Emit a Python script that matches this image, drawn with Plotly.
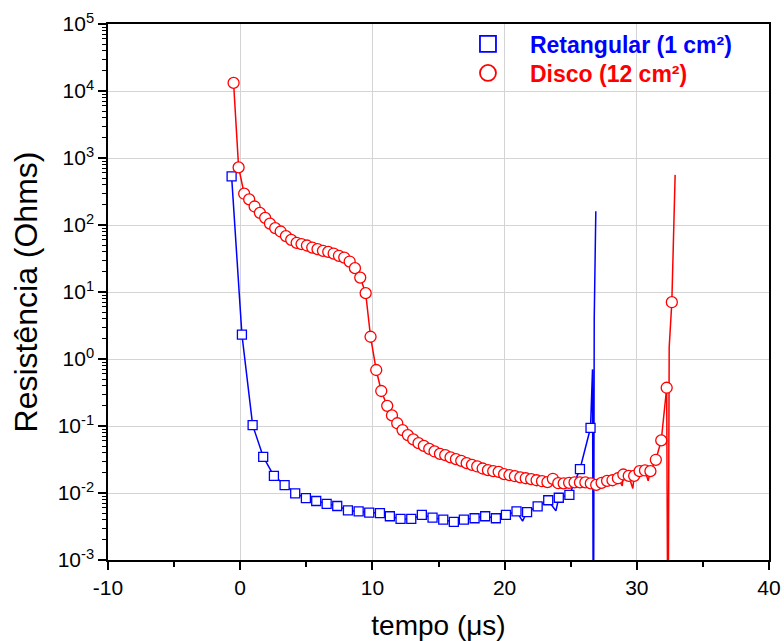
import plotly.graph_objects as go

# ---------------- data ----------------
# Retangular (1 cm²) - marker samples
ret_t = [-0.65, 0.13, 0.94, 1.74, 2.55, 3.36, 4.16, 4.97, 5.75, 6.54, 7.34, 8.15,
         8.96, 9.76, 10.57, 11.32, 12.13, 12.94, 13.74, 14.55, 15.36, 16.16, 16.92,
         17.73, 18.53, 19.34, 20.1, 20.9, 21.7, 22.5, 23.3, 24.1, 24.9, 25.7, 26.5]
ret_r = [531, 2.31, 0.103, 0.0347, 0.0180, 0.0131, 0.0099, 0.0084, 0.0076, 0.0069,
         0.0064, 0.0055, 0.0053, 0.0051, 0.0050, 0.0045, 0.0041, 0.0041, 0.0047,
         0.0043, 0.0040, 0.0037, 0.0040, 0.0042, 0.0045, 0.0042, 0.0047, 0.0053,
         0.0052, 0.0063, 0.0078, 0.0085, 0.0094, 0.0227, 0.094]
# extra line-only samples (noise spikes and final breakdown spike)
ret_extra_t = [21.36, 23.88, 26.65, 26.72, 26.78, 26.9]
ret_extra_r = [0.0038, 0.0054, 0.7, 1e-5, 4.0, 160]

# Disco (12 cm²) - marker samples
dis_t = [-0.5, -0.12, 0.30, 0.68, 1.09, 1.49, 1.89, 2.25, 2.65, 3.06, 3.46, 3.86,
         4.27, 4.64, 5.05, 5.45, 5.85, 6.26, 6.66, 7.07, 7.47, 7.87, 8.28, 8.68,
         9.08, 9.49, 9.86, 10.29, 10.67, 11.12, 11.48, 11.88, 12.28, 12.68, 13.09,
         13.49, 13.89, 14.3, 14.7, 15.11, 15.51, 15.91, 16.32, 16.72, 17.13, 17.53,
         17.93, 18.34, 18.74, 19.14, 19.55, 19.96, 20.37, 20.78, 21.19, 21.6, 22.01,
         22.42, 22.83, 23.24, 23.65, 24.06, 24.47, 24.88, 25.29, 25.7, 26.11, 26.52,
         26.93, 27.34, 27.75, 28.16, 28.57, 28.98, 29.39, 29.8, 30.21, 30.62, 31.03,
         31.44, 31.85, 32.26, 32.65]
dis_r = [13200, 724, 293, 241, 189, 152, 128, 105, 90, 80, 68.3, 60.1,
         54.2, 51.9, 49.4, 46.1, 43.6, 41.1, 39.8, 37.5, 34.7, 32.7, 28.5, 22.7,
         16.4, 9.6, 2.15, 0.685, 0.333, 0.200, 0.144, 0.110, 0.0868, 0.0731, 0.0631,
         0.0555, 0.0506, 0.0456, 0.0417, 0.0384, 0.0367, 0.0340, 0.0320, 0.0302,
         0.0279, 0.0263, 0.0249, 0.0232, 0.0219, 0.0212, 0.0207, 0.0191, 0.0185,
         0.0178, 0.0171, 0.0166, 0.0161, 0.0155, 0.0150, 0.0145, 0.0163, 0.0140,
         0.0139, 0.0142, 0.0144, 0.0144, 0.0144, 0.0139, 0.0132, 0.0142, 0.0152,
         0.0155, 0.0166, 0.0189, 0.0180, 0.0180, 0.0212, 0.0217, 0.0212, 0.0313,
         0.061, 0.372, 7.04]
dis_extra_t = [28.9, 29.7, 30.86, 32.36, 32.45, 32.9]
dis_extra_r = [0.0128, 0.0117, 0.0152, 1e-5, 1.5, 560]

x_ticks = [-10, 0, 10, 20, 30, 40]
x_ticktext = ["-10", "0", "10", "20", "30", "40"]
x_minor = [-5, 5, 15, 25, 35]
y_exps = [-3, -2, -1, 0, 1, 2, 3, 4, 5]
y_ticktext = ["10<sup>%d</sup>" % e for e in y_exps]

names = ["Retangular (1 cm²)", "Disco (12 cm²)"]
BLUE = "#0000ff"
RED = "#ff0000"


def merged(t1, r1, t2, r2):
    pts = sorted(zip(t1 + t2, r1 + r2))
    return [p[0] for p in pts], [p[1] for p in pts]


fig = go.Figure()

for t, r, et, er, col in [
    (ret_t, ret_r, ret_extra_t, ret_extra_r, BLUE),
    (dis_t, dis_r, dis_extra_t, dis_extra_r, RED),
]:
    lt, lr = merged(t, r, et, er)
    fig.add_trace(go.Scatter(x=lt, y=lr, mode="lines", showlegend=False,
                             line=dict(color=col, width=1.5), hoverinfo="skip"))
for t, r, col, sym, size in [
    (ret_t, ret_r, BLUE, "square", 9),
    (dis_t, dis_r, RED, "circle", 11),
]:
    fig.add_trace(go.Scatter(x=t, y=r, mode="markers", showlegend=False,
                             marker=dict(symbol=sym, size=size, color="white",
                                         line=dict(color=col, width=1.3))))

# legend entries (one legend box per entry so each can be placed like the reference)
for name, col, sym, leg in [(names[0], BLUE, "square", "legend"),
                            (names[1], RED, "circle", "legend2")]:
    fig.add_trace(go.Scatter(
        x=[None], y=[None], mode="markers", legend=leg,
        name="<span style='color:%s'><b>%s</b></span>" % (col, name),
        marker=dict(symbol=sym, size=16, color="white", line=dict(color=col, width=1.8))))

FONT = "Liberation Sans, Arial, sans-serif"
axis_font = dict(family=FONT, size=21, color="black")
leg_common = dict(x=0.5113, xanchor="left", yanchor="middle",
                  bgcolor="rgba(0,0,0,0)", borderwidth=0,
                  font=dict(family=FONT, size=23), itemwidth=74)

fig.update_layout(
    width=784, height=641,
    margin=dict(l=108, r=15, t=24, b=81, autoexpand=False),
    paper_bgcolor="white", plot_bgcolor="white",
    font=dict(family=FONT, color="black"),
    showlegend=True,
    legend=dict(y=0.9627, **leg_common),
    legend2=dict(y=0.9086, **leg_common),
    xaxis=dict(
        range=[-10, 40], tickmode="array", tickvals=x_ticks, ticktext=x_ticktext,
        ticks="outside", ticklen=8, tickwidth=1.5, tickcolor="black",
        showline=True, linecolor="black", linewidth=1.5, mirror=True,
        showgrid=True, gridcolor="#d4d4d4", gridwidth=1, zeroline=False,
        tickfont=axis_font, automargin=False,
        minor=dict(tickmode="array", tickvals=x_minor, ticks="outside",
                   ticklen=5, tickwidth=1.5, tickcolor="black", showgrid=False),
        title=dict(text="tempo (μs)", font=dict(size=28), standoff=18),
    ),
    yaxis=dict(
        type="log", range=[-3, 5], tickmode="array",
        tickvals=[10.0 ** e for e in y_exps], ticktext=y_ticktext,
        ticks="outside", ticklen=8, tickwidth=1.5, tickcolor="black",
        showline=True, linecolor="black", linewidth=1.5, mirror=True,
        showgrid=True, gridcolor="#d4d4d4", gridwidth=1, zeroline=False,
        tickfont=axis_font, automargin=False,
        minor=dict(tickmode="array",
                   tickvals=[k * 10.0 ** e for e in y_exps[:-1] for k in range(2, 10)],
                   ticks="outside", ticklen=4, tickwidth=1, tickcolor="black",
                   showgrid=False),
        title=dict(text="Resistência (Ohms)", font=dict(size=32), standoff=10),
    ),
)

fig.write_html("out.html")
